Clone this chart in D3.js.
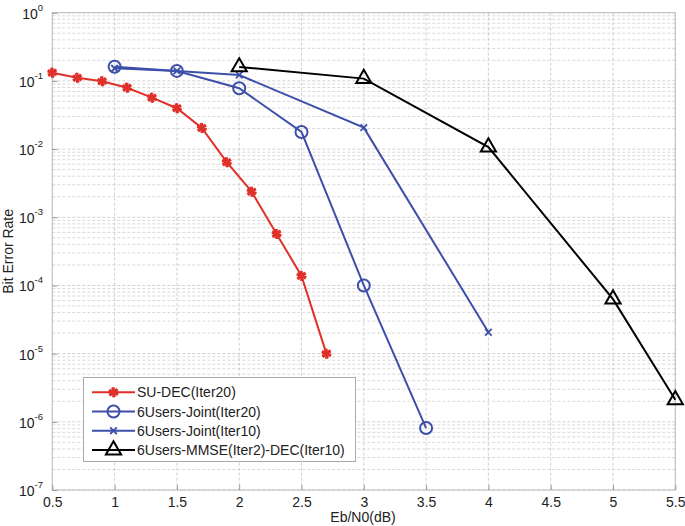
<!DOCTYPE html>
<html><head><meta charset="utf-8">
<script src="https://cdn.jsdelivr.net/npm/d3@7"></script>
<style>body{margin:0;background:#fff}text{font-family:"Liberation Sans",Arial,sans-serif}</style>
</head><body><svg id="c" width="685" height="526"></svg>
<script>
const suX = [0.5,0.7,0.9,1.1,1.3,1.5,1.7,1.9,2.1,2.3,2.5,2.7];
const suY = [0.132,0.111,0.0987,0.0794,0.0567,0.0397,0.0204,0.00642,0.00237,0.00057,0.000138,0.00001];
const j20X = [1,1.5,2,2.5,3,3.5];
const j20Y = [0.161,0.14,0.078,0.0178,0.0001,8.1e-7];
const j10X = [1,1.5,2,3,4];
const j10Y = [0.153,0.14,0.122,0.0206,2.06e-5];
const mmX = [2,3,4,5,5.5];
const mmY = [0.16,0.108,0.0107,6.3e-5,2.1e-6];
const xTicks = [0.5,1,1.5,2,2.5,3,3.5,4,4.5,5,5.5];
const yExps = [0,-1,-2,-3,-4,-5,-6,-7];
const names = ["SU-DEC(Iter20)","6Users-Joint(Iter20)","6Users-Joint(Iter10)","6Users-MMSE(Iter2)-DEC(Iter10)"];

const L=52.3,R=675.3,T=12.7,B=490;
const svg=d3.select("#c");
const x=d3.scaleLinear().domain([0.5,5.5]).range([L,R]);
const y=d3.scaleLog().domain([1e-7,1]).range([B,T]);

const g=svg.append("g");
for(let e=-7;e<0;e++){for(let m=2;m<=9;m++){const v=m*Math.pow(10,e);
 g.append("line").attr("x1",L).attr("x2",R).attr("y1",y(v)).attr("y2",y(v)).attr("stroke","#cfcfcf").attr("stroke-width",0.8).attr("stroke-dasharray","3,2");}}
yExps.forEach(e=>{const v=Math.pow(10,e);g.append("line").attr("x1",L).attr("x2",R).attr("y1",y(v)).attr("y2",y(v)).attr("stroke","#c4c4c4").attr("stroke-width",0.8).attr("stroke-dasharray","3,2");});
xTicks.forEach(t=>{g.append("line").attr("x1",x(t)).attr("x2",x(t)).attr("y1",T).attr("y2",B).attr("stroke","#c4c4c4").attr("stroke-width",0.8).attr("stroke-dasharray","3,2");});

svg.append("rect").attr("x",L).attr("y",T).attr("width",R-L).attr("height",B-T).attr("fill","none").attr("stroke","#bdbdbd").attr("stroke-width",1);

const xa=svg.append("g").attr("transform",`translate(0,${B})`).call(d3.axisBottom(x).tickValues(xTicks).tickSize(-5).tickFormat(d3.format("")));
xa.select(".domain").remove();
xa.selectAll("line").attr("stroke","#999");
xa.selectAll("text").attr("font-size",14).attr("fill","#222").attr("y",17).attr("dy","0");
const ya=svg.append("g").attr("transform",`translate(${L},0)`).call(d3.axisLeft(y).tickValues(yExps.map(e=>Math.pow(10,e))).tickSize(-5).tickFormat(""));
ya.select(".domain").remove();
ya.selectAll("line").attr("stroke","#999");
yExps.forEach(e=>{const t=svg.append("text").attr("x",43).attr("y",y(Math.pow(10,e))+6).attr("text-anchor","end").attr("font-size",14).attr("fill","#222");
 t.append("tspan").text("10");
 t.append("tspan").attr("font-size",9.5).attr("dy",-8).text(e);});

svg.append("text").attr("x",363).attr("y",522).attr("text-anchor","middle").attr("font-size",14).attr("fill","#222").text("Eb/N0(dB)");
svg.append("text").attr("transform",`translate(13,${(T+B)/2}) rotate(-90)`).attr("text-anchor","middle").attr("font-size",14).attr("fill","#222").text("Bit Error Rate");

const series=[
 {xs:suX,ys:suY,color:"#e0302a",mk:"ast"},
 {xs:j20X,ys:j20Y,color:"#3d4fa8",mk:"circle"},
 {xs:j10X,ys:j10Y,color:"#3d4fa8",mk:"x"},
 {xs:mmX,ys:mmY,color:"#000",mk:"tri"}];
function marker(sel,mk,color,cx,cy){
 if(mk==="ast"){sel.append("path").attr("d",d3.symbol(d3.symbolAsterisk,70)()).attr("transform",`translate(${cx},${cy})`).attr("stroke",color).attr("stroke-width",2.6).attr("fill","none");
  sel.append("path").attr("d",d3.symbol(d3.symbolAsterisk,70)()).attr("transform",`translate(${cx},${cy}) rotate(45)`).attr("stroke",color).attr("stroke-width",2.2).attr("fill","none");}
 else if(mk==="circle"){sel.append("circle").attr("cx",cx).attr("cy",cy).attr("r",6).attr("stroke",color).attr("stroke-width",2).attr("fill","none");}
 else if(mk==="x"){sel.append("path").attr("d",d3.symbol(d3.symbolX,30)()).attr("transform",`translate(${cx},${cy})`).attr("stroke",color).attr("stroke-width",1.8).attr("fill","none");}
 else {sel.append("path").attr("d",d3.symbol(d3.symbolTriangle,100)()).attr("transform",`translate(${cx},${cy})`).attr("stroke",color).attr("stroke-width",2).attr("fill","none");}
}
series.forEach(s=>{
 const pts=s.xs.map((v,i)=>[x(v),y(s.ys[i])]);
 svg.append("path").attr("d",d3.line()(pts)).attr("stroke",s.color).attr("stroke-width",2).attr("fill","none");
 const mg=svg.append("g");pts.forEach(p=>marker(mg,s.mk,s.color,p[0],p[1]));
});

const lg=svg.append("g");
lg.append("rect").attr("x",83.5).attr("y",377.5).attr("width",272).attr("height",84).attr("fill","#fff").attr("stroke","#aaa").attr("stroke-width",1);
const ly=[392.3,411.5,430.7,450];
series.forEach((s,i)=>{
 lg.append("line").attr("x1",92).attr("x2",135).attr("y1",ly[i]).attr("y2",ly[i]).attr("stroke",s.color).attr("stroke-width",2);
 marker(lg,s.mk,s.color,113.5,ly[i]);
 lg.append("text").attr("x",137).attr("y",ly[i]+5).attr("font-size",14).attr("fill","#222").text(names[i]);
});
</script></body></html>
